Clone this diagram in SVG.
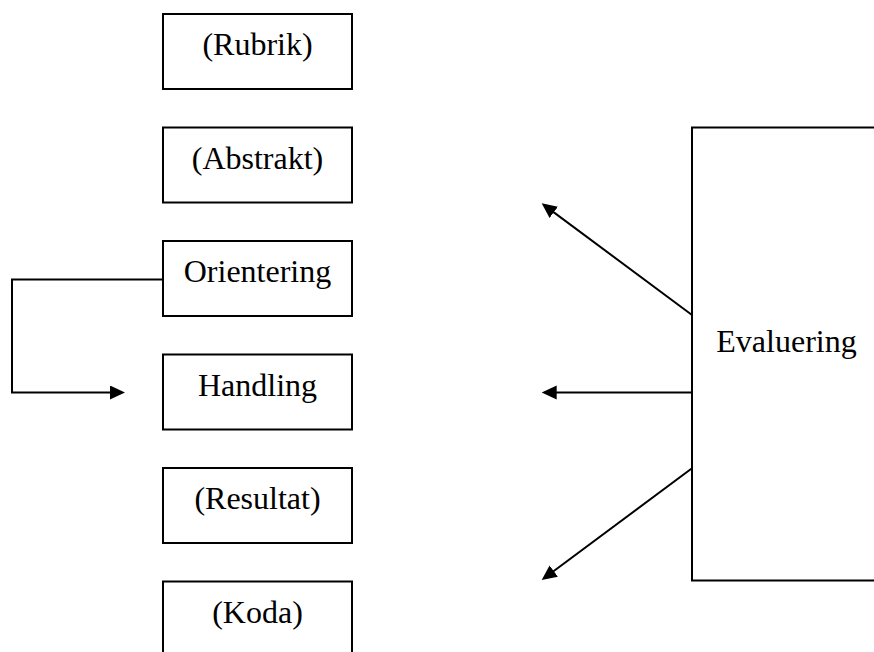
<svg xmlns="http://www.w3.org/2000/svg" width="874" height="652" viewBox="0 0 874 652">
<style>
.box{fill:#fff;stroke:#000;stroke-width:2}
.lbl{font-family:"Liberation Serif","Times New Roman",serif;font-size:32px;fill:#000;text-anchor:middle}
.con{fill:none;stroke:#000;stroke-width:2}
</style>
<defs>
<marker id="ah" markerUnits="userSpaceOnUse" markerWidth="16" markerHeight="16" refX="12" refY="7" orient="auto">
<path d="M0,0 L15,7 L0,14 Z" fill="#000"/>
</marker>
</defs>
<rect width="874" height="652" fill="#fff"/>
<g id="rubrik"><rect class="box" x="163" y="14" width="189" height="75"/><text class="lbl" x="257.5" y="55">(Rubrik)</text></g>
<g id="abstrakt"><rect class="box" x="163" y="127.5" width="189" height="75"/><text class="lbl" x="257.5" y="168.5">(Abstrakt)</text></g>
<g id="orientering"><rect class="box" x="163" y="241" width="189" height="75"/><text class="lbl" x="257.5" y="282">Orientering</text></g>
<g id="handling"><rect class="box" x="163" y="354.5" width="189" height="75"/><text class="lbl" x="257.5" y="395.5">Handling</text></g>
<g id="resultat"><rect class="box" x="163" y="468" width="189" height="75"/><text class="lbl" x="257.5" y="509">(Resultat)</text></g>
<g id="koda"><rect class="box" x="163" y="581.5" width="189" height="80"/><text class="lbl" x="257.5" y="622.5">(Koda)</text></g>
<g id="evaluering"><rect class="box" x="692" y="127.5" width="200" height="453"/><text class="lbl" x="786.5" y="351.5">Evaluering</text></g>
<g id="connectors">
<polyline class="con" points="163,279.5 12,279.5 12,392.5 122,392.5" marker-end="url(#ah)"/>
<line class="con" x1="692" y1="315" x2="544.1" y2="205.1" marker-end="url(#ah)"/>
<line class="con" x1="692" y1="392.5" x2="544.7" y2="392.5" marker-end="url(#ah)"/>
<line class="con" x1="692" y1="468.3" x2="544.1" y2="578.2" marker-end="url(#ah)"/>
</g>
</svg>
